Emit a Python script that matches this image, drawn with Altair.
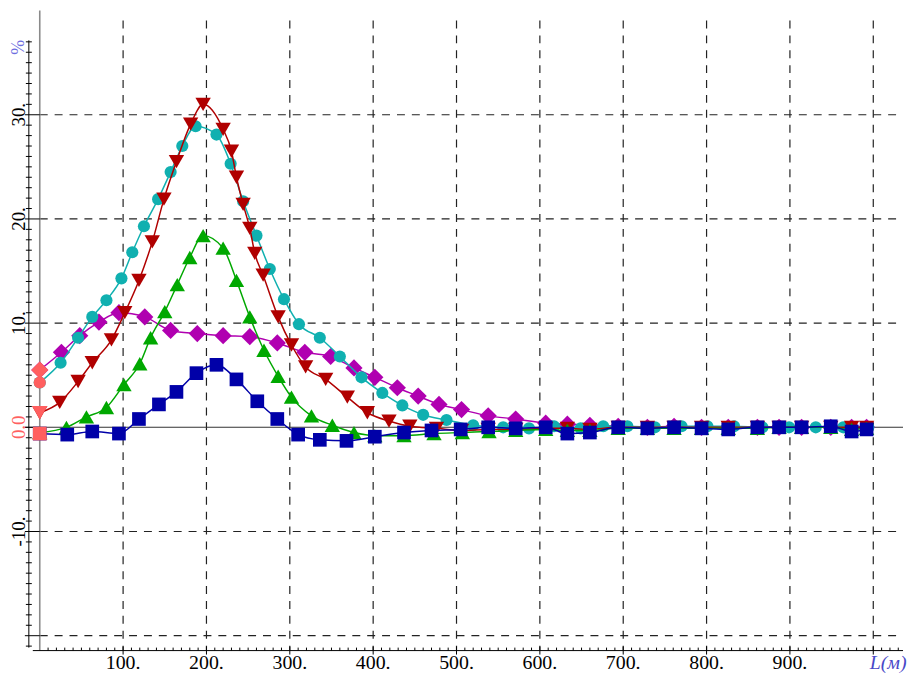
import altair as alt
import pandas as pd

# ---------------- data ----------------
mag_x = [0, 26, 48, 71, 95, 126, 157, 189, 220, 252, 285, 318, 349, 377, 402, 429, 454, 479, 506,
         538, 571, 607, 633, 660, 694, 729, 761, 794, 826, 861, 887, 914, 949, 974, 992]
mag_y = [5.5, 7.2, 8.8, 10.1, 11.0, 10.6, 9.3, 9.0, 8.8, 8.7, 8.1, 7.2, 6.8, 5.7, 4.8, 3.8, 3.0, 2.2, 1.7,
         1.1, 0.8, 0.4, 0.3, 0.2, 0.1, 0.0, 0.1, 0.0, 0.0, 0.0, 0.0, 0.0, 0.0, 0.0, 0.0]

cyan_x = [0, 25, 46, 63, 80, 98, 111, 125, 142, 157, 171, 187, 212, 229, 244, 260, 276, 293, 311, 336,
          360, 386, 411, 435, 460, 488, 520, 556, 587, 617, 649, 676, 705, 738, 770, 801, 833, 867,
          899, 931, 964, 994]
cyan_y = [4.3, 6.2, 8.6, 10.6, 12.2, 14.3, 16.8, 19.3, 21.9, 24.5, 27.0, 28.9, 28.1, 25.3, 21.7, 18.4,
          15.2, 12.3, 9.9, 8.6, 6.8, 4.8, 3.3, 2.1, 1.2, 0.7, 0.2, 0.0, -0.1, 0.1, -0.1, 0.1, 0.1, 0.0,
          0.1, 0.1, 0.1, 0.0, 0.0, 0.0, 0.0, 0.0]

red_x = [0, 24, 46, 63, 86, 102, 119, 135, 149, 164, 181, 196, 220, 230, 236, 244, 252, 258, 268, 286,
         302, 319, 343, 369, 393, 419, 444, 476, 506, 538, 571, 607, 633, 660, 694, 729, 761, 794, 826,
         861, 887, 914, 949, 974, 992]
red_y = [1.4, 2.4, 4.4, 6.2, 8.4, 11.0, 14.1, 17.8, 21.9, 25.5, 29.1, 31.0, 28.6, 26.5, 24.0, 21.4,
         19.1, 16.7, 14.6, 10.6, 7.9, 5.8, 4.6, 2.9, 1.4, 0.6, 0.1, -0.1, -0.3, -0.2, -0.2, -0.1, -0.1,
         -0.2, 0.0, 0.0, 0.0, 0.0, 0.0, 0.0, 0.0, 0.0, 0.0, 0.0, 0.0]

green_x = [0, 32, 56, 80, 101, 120, 133, 150, 165, 180, 196, 220, 236, 252, 269, 286, 302, 326, 351,
           377, 402, 437, 473, 507, 539, 571, 607, 633, 660, 694, 729, 761, 794, 826, 861, 887, 914,
           949, 974, 992]
green_y = [-0.5, 0.0, 1.0, 1.9, 4.1, 6.1, 8.6, 11.1, 13.7, 16.3, 18.4, 17.2, 14.1, 10.6, 7.4, 4.9,
           2.9, 1.1, 0.2, -0.5, -0.8, -0.8, -0.6, -0.5, -0.4, -0.3, -0.2, -0.3, -0.3, -0.1, -0.1,
           -0.1, -0.1, -0.1, -0.1, 0.0, 0.0, 0.0, -0.2, -0.1]

blue_x = [0, 33, 63, 95, 119, 143, 164, 188, 212, 236, 261, 285, 310, 336, 368, 402, 437, 470, 505,
          538, 571, 607, 633, 660, 694, 729, 761, 794, 826, 861, 887, 914, 949, 974, 992]
blue_y = [-0.6, -0.7, -0.4, -0.6, 0.8, 2.2, 3.4, 5.2, 6.0, 4.6, 2.5, 0.8, -0.7, -1.2, -1.3, -0.9,
          -0.5, -0.3, -0.2, 0.0, -0.1, 0.0, -0.6, -0.5, 0.0, -0.1, 0.0, -0.1, -0.2, 0.0, 0.0, 0.0,
          0.1, -0.4, -0.2]

x_grid = [100, 200, 300, 400, 500, 600, 700, 800, 900, 1000]
y_grid = [-20, -10, 10, 20, 30]
y_major = [-20, -10, 0, 10, 20, 30]
y_minor = [v for v in range(-21, 38) if v % 10 != 0]
x_minor = [v for v in range(0, 1031, 10) if v % 100 != 0]
x_labels = [100, 200, 300, 400, 500, 600, 700, 800, 900]
x_label_text = ["100.", "200.", "300.", "400.", "500.", "600.", "700.", "800.", "900."]
y_labels = [-10, 0, 10, 20, 30]
y_label_text = ["-10.", "0.0", "10.", "20.", "30."]

# ---------------- layout ----------------
W, H = 877, 645
XMIN, XMAX = -8.33, 1035.7
YMIN, YMAX = -21.43, 40.0
FONT = "Liberation Serif"

xs = alt.Scale(domain=[XMIN, XMAX], nice=False, zero=False)
ys = alt.Scale(domain=[YMIN, YMAX], nice=False, zero=False)


def X(f):
    return alt.X(f"{f}:Q", scale=xs, axis=None)


def Y(f):
    return alt.Y(f"{f}:Q", scale=ys, axis=None)


layers = []

# grid
layers.append(alt.Chart(pd.DataFrame({"gy": y_grid})).mark_rule(
    color="#222", strokeWidth=1.2, strokeDash=[8, 7]).encode(
    y=Y("gy"), x=alt.value(7), x2=alt.value(W)))
layers.append(alt.Chart(pd.DataFrame({"gx": x_grid})).mark_rule(
    color="#222", strokeWidth=1.2, strokeDash=[8, 7]).encode(
    x=X("gx"), y=alt.value(10), y2=alt.value(H)))

# zero lines
layers.append(alt.Chart(pd.DataFrame({"z": [0]})).mark_rule(
    color="#8a8a8a", strokeWidth=1.6).encode(x=X("z"), y=alt.value(0), y2=alt.value(H)))
layers.append(alt.Chart(pd.DataFrame({"z": [0]})).mark_rule(
    color="#333", strokeWidth=1.1).encode(y=Y("z"), x=alt.value(-8), x2=alt.value(W)))

# y axis (offset to the left)
layers.append(alt.Chart(pd.DataFrame({"z": [0]})).mark_rule(
    color="#000", strokeWidth=1).encode(x=alt.value(-4), y=alt.value(30), y2=alt.value(642)))
layers.append(alt.Chart(pd.DataFrame({"t": y_minor})).mark_rule(
    color="#000", strokeWidth=1).encode(y=Y("t"), x=alt.value(-7), x2=alt.value(-1)))
layers.append(alt.Chart(pd.DataFrame({"t": y_major})).mark_rule(
    color="#000", strokeWidth=1).encode(y=Y("t"), x=alt.value(-8), x2=alt.value(7)))

# x axis
layers.append(alt.Chart(pd.DataFrame({"z": [0]})).mark_rule(
    color="#000", strokeWidth=1).encode(y=alt.value(H), x=alt.value(0), x2=alt.value(W)))
layers.append(alt.Chart(pd.DataFrame({"t": x_minor})).mark_rule(
    color="#000", strokeWidth=1).encode(x=X("t"), y=alt.value(H - 3), y2=alt.value(H)))
layers.append(alt.Chart(pd.DataFrame({"t": x_grid})).mark_rule(
    color="#000", strokeWidth=1).encode(x=X("t"), y=alt.value(H - 4), y2=alt.value(H + 4)))

# series
series = [
    (mag_x, mag_y, "#b000b0", "diamond", 300),
    (cyan_x, cyan_y, "#10b0b0", "circle", 150),
    (red_x, red_y, "#b00000", "triangle-down", 240),
    (green_x, green_y, "#00a800", "triangle-up", 240),
    (blue_x, blue_y, "#0000a8", "square", 190),
]
for sx, sy, col, shp, sz in series:
    d = pd.DataFrame({"L": sx, "v": sy})
    layers.append(alt.Chart(d).mark_line(
        color=col, strokeWidth=1.5, interpolate="monotone").encode(x=X("L"), y=Y("v")))
    layers.append(alt.Chart(d).mark_point(
        filled=True, color=col, opacity=1, shape=shp, size=sz).encode(x=X("L"), y=Y("v")))

# first points (at L = 0) are drawn in salmon
for sx, sy, col, shp, sz in series:
    d = pd.DataFrame({"L": sx[:1], "v": sy[:1]})
    layers.append(alt.Chart(d).mark_point(
        filled=True, color="#ff5f5f", opacity=1, shape=shp, size=sz).encode(x=X("L"), y=Y("v")))

# labels
layers.append(alt.Chart(pd.DataFrame({"v": y_labels, "t": y_label_text})).mark_text(
    angle=270, align="center", baseline="alphabetic", font=FONT, fontSize=19).encode(
    y=Y("v"), x=alt.value(-8), text="t:N",
    color=alt.condition(alt.datum.v == 0, alt.value("#ff6060"), alt.value("#000"))))
layers.append(alt.Chart(pd.DataFrame({"L": x_labels, "t": x_label_text})).mark_text(
    align="center", baseline="alphabetic", font=FONT, fontSize=20, color="#000").encode(
    x=X("L"), y=alt.value(H + 19), text="t:N"))
layers.append(alt.Chart(pd.DataFrame({"t": ["L(м)"]})).mark_text(
    align="center", baseline="alphabetic", font=FONT, fontSize=20, fontStyle="italic",
    color="#4848c8").encode(x=alt.value(862), y=alt.value(H + 19), text="t:N"))
layers.append(alt.Chart(pd.DataFrame({"t": ["%"]})).mark_text(
    angle=270, align="center", baseline="alphabetic", font=FONT, fontSize=18,
    color="#6e6ee0").encode(x=alt.value(-9), y=alt.value(37), text="t:N"))

chart = alt.layer(*layers).properties(
    width=W, height=H,
    autosize=alt.AutoSizeParams(type="none"),
    padding={"left": 25, "top": 0, "right": 4, "bottom": 22},
).configure_view(stroke=None)

chart.save("out.html", embed_options={"renderer": "svg", "actions": False})
